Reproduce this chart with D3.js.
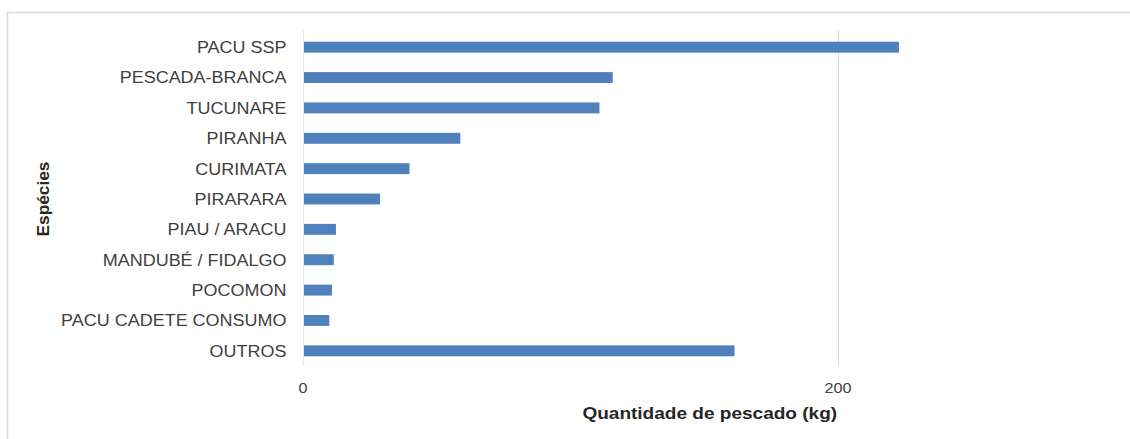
<!DOCTYPE html>
<html>
<head>
<meta charset="utf-8">
<script src="https://cdn.jsdelivr.net/npm/d3@7"></script>
<style>
  html, body { margin: 0; padding: 0; background: #fff; }
  svg { display: block; }
</style>
</head>
<body>
<svg id="chart" width="1130" height="439"></svg>
<script>
const categories = [
  "PACU SSP", "PESCADA-BRANCA", "TUCUNARE", "PIRANHA", "CURIMATA", "PIRARARA",
  "PIAU / ARACU", "MANDUBÉ / FIDALGO", "POCOMON", "PACU CADETE CONSUMO", "OUTROS"
];
const values = [223, 116, 111, 59, 40, 29, 12.5, 11.7, 11, 10, 161.5];
const xTicks = [0, 200];
const xDomain = [0, 300];
const xTitle = "Quantidade de pescado (kg)";
const yTitle = "Espécies";

const svg = d3.select("#chart");
const font = "'Liberation Sans', Arial, sans-serif";
const textColor = "#404040";

// frame
svg.append("rect")
  .attr("x", 7.5).attr("y", 12.5)
  .attr("width", 1130).attr("height", 440)
  .attr("fill", "#fff").attr("stroke", "#d9d9d9").attr("stroke-width", 1.5);

const plot = { left: 302.5, right: 1105, top: 32, bottom: 366 };

const x = d3.scaleLinear().domain(xDomain).range([plot.left, plot.right]);
const y = d3.scaleBand().domain(categories).range([plot.top, plot.bottom]).paddingInner(0.64).paddingOuter(0.32);

// gridlines
svg.append("g").selectAll("line").data(xTicks.filter(d => d !== 0)).join("line")
  .attr("x1", d => Math.round(x(d)) + 0.5).attr("x2", d => Math.round(x(d)) + 0.5)
  .attr("y1", plot.top - 2).attr("y2", plot.bottom)
  .attr("stroke", "#d9d9d9").attr("stroke-width", 1);

// bars
svg.append("g").selectAll("rect").data(categories).join("rect")
  .attr("x", x(0) + 1)
  .attr("y", d => y(d))
  .attr("width", (d, i) => x(values[i]) - x(0) - 1)
  .attr("height", y.bandwidth())
  .attr("fill", "#4f81bd");

// y axis line (at zero)
svg.append("line")
  .attr("x1", Math.round(x(0)) + 0.5).attr("x2", Math.round(x(0)) + 0.5)
  .attr("y1", plot.top - 2).attr("y2", plot.bottom)
  .attr("stroke", "#e3e6ee").attr("stroke-width", 1);

// category labels via axis
const yAxis = d3.axisLeft(y).tickSize(0).tickPadding(0);
const yg = svg.append("g").attr("transform", `translate(${x(0) - 16},0)`).call(yAxis);
yg.select(".domain").remove();
yg.selectAll("text")
  .attr("x", 0)
  .attr("transform", "scale(1.09,1)")
  .attr("font-family", font).attr("font-size", 16.5)
  .attr("fill", textColor)
  .attr("dy", "0.36em");

// x tick labels via axis
const xAxis = d3.axisBottom(x).tickValues(xTicks).tickSize(0).tickPadding(16).tickFormat(d3.format("d"));
const xg = svg.append("g").attr("transform", `translate(0,${plot.bottom})`).call(xAxis);
xg.select(".domain").remove();
xg.selectAll("text")
  .attr("font-family", font).attr("font-size", 15)
  .attr("transform", "scale(1.08,1)")
  .attr("fill", textColor);
xg.selectAll(".tick").each(function(d) {
  // keep tick label centered at the tick after horizontal stretch
  d3.select(this).select("text").attr("x", 0);
});

// axis titles
const cx = (plot.left + plot.right) / 2 + 6;
svg.append("text")
  .attr("transform", `translate(${cx},419) scale(1.12,1)`)
  .attr("text-anchor", "middle")
  .attr("font-family", font).attr("font-size", 17).attr("font-weight", "bold")
  .attr("fill", "#262626")
  .text(xTitle);

svg.append("text")
  .attr("transform", `translate(49,${(plot.top + plot.bottom) / 2}) rotate(-90) scale(1.08,1)`)
  .attr("text-anchor", "middle")
  .attr("font-family", font).attr("font-size", 16).attr("font-weight", "bold")
  .attr("fill", "#262626")
  .text(yTitle);
</script>
</body>
</html>
